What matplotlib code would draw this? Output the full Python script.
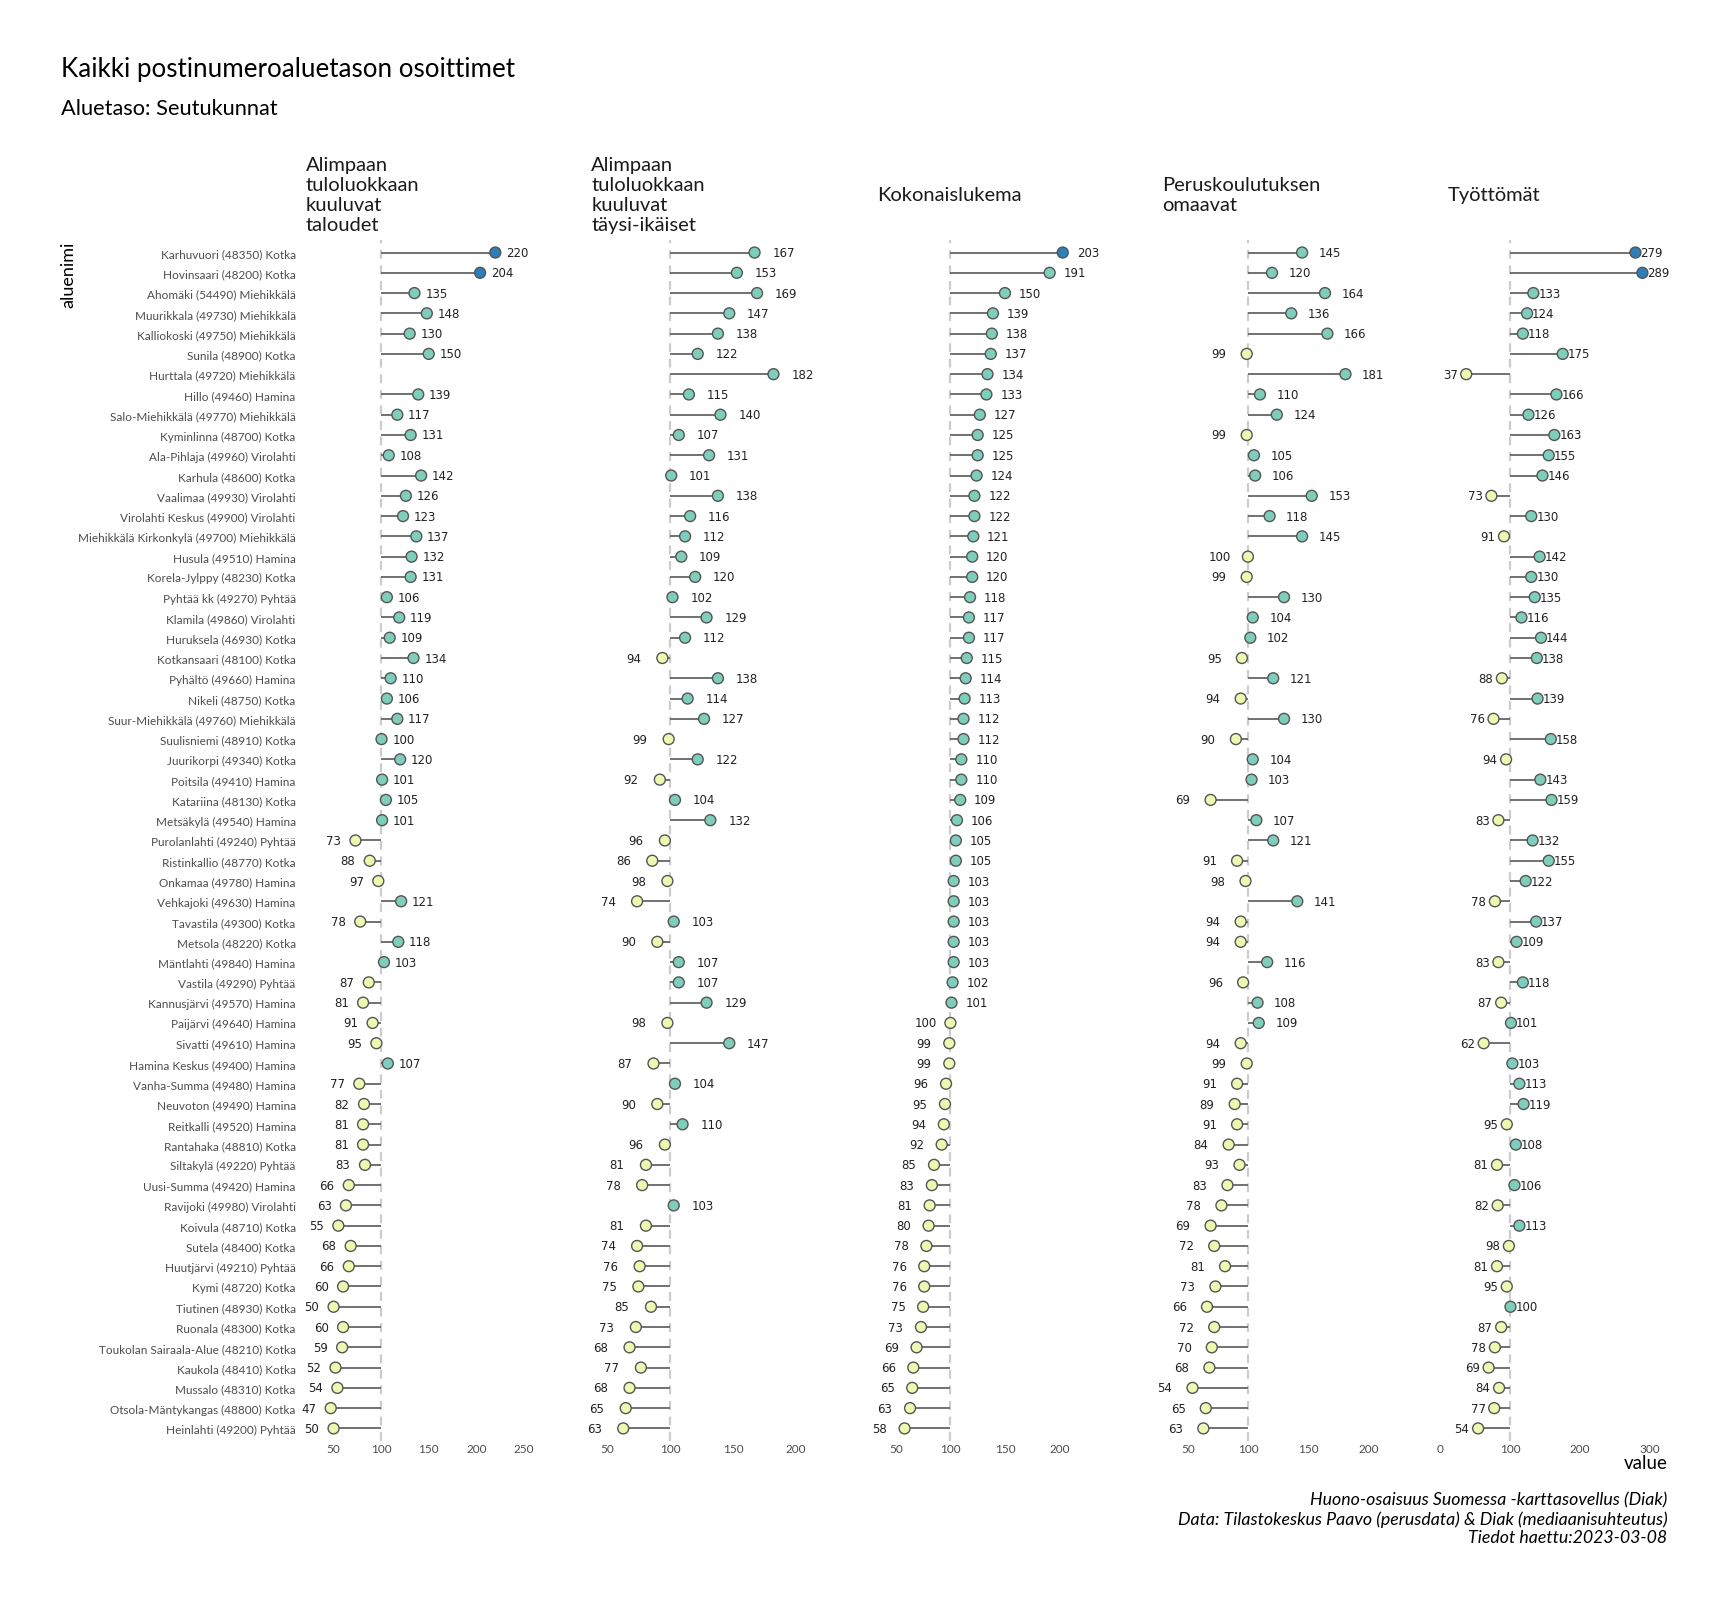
import numpy as np
import matplotlib
matplotlib.use("Agg")
import matplotlib.pyplot as plt
from matplotlib.ticker import MultipleLocator

plt.rcParams['font.family'] = ['Lato', 'DejaVu Sans']

# alueet jarjestyksessa ylhaalta alas (kokonaislukeman mukaan)
alueet = [
    "Karhuvuori (48350) Kotka", "Hovinsaari (48200) Kotka", "Ahomäki (54490) Miehikkälä",
    "Muurikkala (49730) Miehikkälä", "Kalliokoski (49750) Miehikkälä", "Sunila (48900) Kotka",
    "Hurttala (49720) Miehikkälä", "Hillo (49460) Hamina", "Salo-Miehikkälä (49770) Miehikkälä",
    "Kyminlinna (48700) Kotka", "Ala-Pihlaja (49960) Virolahti", "Karhula (48600) Kotka",
    "Vaalimaa (49930) Virolahti", "Virolahti Keskus (49900) Virolahti",
    "Miehikkälä Kirkonkylä (49700) Miehikkälä", "Husula (49510) Hamina",
    "Korela-Jylppy (48230) Kotka", "Pyhtää kk (49270) Pyhtää", "Klamila (49860) Virolahti",
    "Huruksela (46930) Kotka", "Kotkansaari (48100) Kotka", "Pyhältö (49660) Hamina",
    "Nikeli (48750) Kotka", "Suur-Miehikkälä (49760) Miehikkälä", "Suulisniemi (48910) Kotka",
    "Juurikorpi (49340) Kotka", "Poitsila (49410) Hamina", "Katariina (48130) Kotka",
    "Metsäkylä (49540) Hamina", "Purolanlahti (49240) Pyhtää", "Ristinkallio (48770) Kotka",
    "Onkamaa (49780) Hamina", "Vehkajoki (49630) Hamina", "Tavastila (49300) Kotka",
    "Metsola (48220) Kotka", "Mäntlahti (49840) Hamina", "Vastila (49290) Pyhtää",
    "Kannusjärvi (49570) Hamina", "Paijärvi (49640) Hamina", "Sivatti (49610) Hamina",
    "Hamina Keskus (49400) Hamina", "Vanha-Summa (49480) Hamina", "Neuvoton (49490) Hamina",
    "Reitkalli (49520) Hamina", "Rantahaka (48810) Kotka", "Siltakylä (49220) Pyhtää",
    "Uusi-Summa (49420) Hamina", "Ravijoki (49980) Virolahti", "Koivula (48710) Kotka",
    "Sutela (48400) Kotka", "Huutjärvi (49210) Pyhtää", "Kymi (48720) Kotka",
    "Tiutinen (48930) Kotka", "Ruonala (48300) Kotka", "Toukolan Sairaala-Alue (48210) Kotka",
    "Kaukola (48410) Kotka", "Mussalo (48310) Kotka", "Otsola-Mäntykangas (48800) Kotka",
    "Heinlahti (49200) Pyhtää",
]

taloudet = [220, 204, 135, 148, 130, 150, np.nan, 139, 117, 131, 108, 142, 126, 123, 137,
            132, 131, 106, 119, 109, 134, 110, 106, 117, 100.4, 120, 101, 105, 101, 73,
            88, 97, 121, 78, 118, 103, 87, 81, 91, 95, 107, 77, 82, 81, 81,
            83, 66, 63, 55, 68, 66, 60, 50, 60, 59, 52, 54, 47, 50]
taysi_ikaiset = [167, 153, 169, 147, 138, 122, 182, 115, 140, 107, 131, 101, 138, 116, 112,
                 109, 120, 102, 129, 112, 94, 138, 114, 127, 99, 122, 92, 104, 132, 96,
                 86, 98, 74, 103, 90, 107, 107, 129, 98, 147, 87, 104, 90, 110, 96,
                 81, 78, 103, 81, 74, 76, 75, 85, 73, 68, 77, 68, 65, 63]
kokonaislukema = [203, 191, 150, 139, 138, 137, 134, 133, 127, 125, 125, 124, 122, 122, 121,
                  120, 120, 118, 117, 117, 115, 114, 113, 112, 112, 110, 110, 109, 106, 105,
                  105, 103, 103, 103, 103, 103, 102, 101, 100, 99, 99, 96, 95, 94, 92,
                  85, 83, 81, 80, 78, 76, 76, 75, 73, 69, 66, 65, 63, 58]
peruskoulutus = [145, 120, 164, 136, 166, 99, 181, 110, 124, 99, 105, 106, 153, 118, 145,
                 100, 99, 130, 104, 102, 95, 121, 94, 130, 90, 104, 103, 69, 107, 121,
                 91, 98, 141, 94, 94, 116, 96, 108, 109, 94, 99, 91, 89, 91, 84,
                 93, 83, 78, 69, 72, 81, 73, 66, 72, 70, 68, 54, 65, 63]
tyottomat = [279, 289, 133, 124, 118, 175, 37, 166, 126, 163, 155, 146, 73, 130, 91,
             142, 130, 135, 116, 144, 138, 88, 139, 76, 158, 94, 143, 159, 83, 132,
             155, 122, 78, 137, 109, 83, 118, 87, 101, 62, 103, 113, 119, 95, 108,
             81, 106, 82, 113, 98, 81, 95, 100.3, 87, 78, 69, 84, 77, 54]

otsikot = ["Alimpaan\ntuloluokkaan\nkuuluvat\ntaloudet",
           "Alimpaan\ntuloluokkaan\nkuuluvat\ntäysi-ikäiset",
           "Kokonaislukema",
           "Peruskoulutuksen\nomaavat",
           "Työttömät"]
sarjat = [taloudet, taysi_ikaiset, kokonaislukema, peruskoulutus, tyottomat]
askeleet = [50, 50, 50, 50, 100]

keltainen = '#edf8b1'
vihrea = '#7fcdbb'
sininen = '#2c7fb8'

fig = plt.figure(figsize=(17.28, 16.08), dpi=100)
axes = fig.subplots(1, 5, sharey=True)
fig.subplots_adjust(left=0.1727, right=0.9658, bottom=0.1035, top=0.8499, wspace=0.245)

nudge = 23
y = np.arange(len(alueet))
for ax, vals, otsikko, step in zip(axes, sarjat, otsikot, askeleet):
    v = np.array(vals, dtype=float)
    ok = ~np.isnan(v)
    varit = np.where(v > 200, sininen, np.where(v > 100, vihrea, keltainen))
    ax.axvline(100, color='#cccccc', lw=1.6, ls=(0, (4, 3)), zorder=1)
    ax.hlines(y[ok], 100, v[ok], color='#666666', lw=1.3, zorder=2)
    ax.scatter(v[ok], y[ok], s=62, c=varit[ok], edgecolors='#555555', linewidths=1, zorder=3)
    tx = np.where(v > 100, v + nudge, v - nudge)
    for yi, vi, ti in zip(y[ok], v[ok], tx[ok]):
        ax.text(ti, yi, f"{vi:.0f}", ha='center', va='center', fontsize=8.5,
                family='DejaVu Sans', color='#222222')
    lo = min(np.nanmin(tx), np.nanmin(v), 100)
    hi = max(np.nanmax(tx), np.nanmax(v), 100)
    pad = (hi - lo) * 0.05
    ax.set_xlim(lo - pad, hi + pad)
    ax.xaxis.set_major_locator(MultipleLocator(step))
    for s in ax.spines.values():
        s.set_visible(False)
    ax.tick_params(axis='x', length=0, labelsize=8.5, labelcolor='#4d4d4d', pad=2)
    ax.tick_params(axis='y', length=0, labelsize=8.5, labelcolor='#4d4d4d', pad=2)
    ax.annotate(otsikko, xy=(0, 1), xycoords='axes fraction', xytext=(5.5, 33),
                textcoords='offset points', ha='left', va='center', fontsize=14.5,
                color='#1a1a1a', linespacing=1.2)

axes[0].set_yticks(y)
axes[0].set_yticklabels(alueet)
axes[0].set_ylim(len(alueet) - 1 + 0.6, -0.6)

fig.text(0.0394, 0.85, 'aluenimi', rotation=90, ha='center', va='top', fontsize=13)
fig.text(0.9650, 0.0899, 'value', ha='right', va='center', fontsize=13.4)
fig.text(0.0351, 0.9568, 'Kaikki postinumeroaluetason osoittimet', ha='left', va='center',
         fontsize=18.7)
fig.text(0.0351, 0.9322, 'Aluetaso: Seutukunnat', ha='left', va='center', fontsize=15.7)

fig.text(0.9650, 0.0672, 'Huono-osaisuus Suomessa -karttasovellus (Diak)', ha='right',
         va='center', fontsize=12.8, style='italic')
fig.text(0.9650, 0.0550, 'Data: Tilastokeskus Paavo (perusdata) & Diak (mediaanisuhteutus)',
         ha='right', va='center', fontsize=12.8, style='italic')
fig.text(0.9650, 0.0435, 'Tiedot haettu:2023-03-08', ha='right', va='center', fontsize=12.8,
         style='italic')

fig.savefig('out.png', dpi=100, facecolor='white')
